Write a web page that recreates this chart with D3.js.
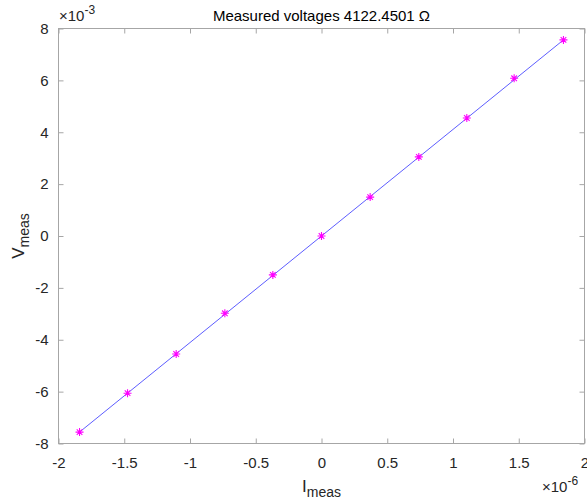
<!DOCTYPE html>
<html>
<head>
<meta charset="utf-8">
<script src="https://cdn.jsdelivr.net/npm/d3@7"></script>
<style>
  body { margin: 0; background: #fff; }
  svg { font-family: "Liberation Sans", Arial, sans-serif; }
</style>
</head>
<body>
<svg id="chart" width="587" height="500"></svg>
<script>
// measured current (x1e-6 A) and voltage (x1e-3 V)
const currents = [-1.84, -1.475, -1.105, -0.735, -0.37, 0, 0.37, 0.74, 1.105, 1.465, 1.84];
const voltages = [-7.56, -6.06, -4.55, -2.98, -1.50, 0, 1.50, 3.05, 4.55, 6.08, 7.56];
const fitLine = [[-1.84, -7.56], [1.84, 7.56]];
const xTicks = [-2, -1.5, -1, -0.5, 0, 0.5, 1, 1.5, 2];
const yTicks = [-8, -6, -4, -2, 0, 2, 4, 6, 8];
const titleText = "Measured voltages 4122.4501 \u03A9";

const buildVis = (svg_name) => {
    let chart = d3.select(svg_name);
    let margin = { left: 58.5, right: 2.5, top: 28.5, bottom: 56.5 };
    let w = +chart.attr("width"), h = +chart.attr("height");

    let x = d3.scaleLinear().domain([-2, 2]).range([margin.left, w - margin.right]);
    let y = d3.scaleLinear().domain([-8, 8]).range([h - margin.bottom, margin.top]);

    let axisColor = "#a6a6a6";
    let textColor = "#262626";

    // box
    chart.append("rect")
        .attr("x", margin.left).attr("y", margin.top)
        .attr("width", w - margin.right - margin.left)
        .attr("height", h - margin.bottom - margin.top)
        .attr("fill", "none").attr("stroke", axisColor).attr("stroke-width", 1);

    const styleAxis = (g) => {
        g.select(".domain").remove();
        g.selectAll(".tick line").attr("stroke", axisColor);
        g.selectAll(".tick text").attr("fill", textColor)
            .style("font-size", "15px");
    };
    const fmt = (d) => String(d);

    chart.append("g")
        .attr("transform", "translate(0," + (h - margin.bottom) + ")")
        .call(d3.axisBottom(x).tickValues(xTicks).tickSizeInner(-5).tickPadding(14).tickFormat(fmt))
        .call(styleAxis);
    chart.append("g")
        .attr("transform", "translate(0," + margin.top + ")")
        .call(d3.axisTop(x).tickValues(xTicks).tickSizeInner(-5).tickFormat(""))
        .call(styleAxis);
    chart.append("g")
        .attr("transform", "translate(" + margin.left + ",0)")
        .call(d3.axisLeft(y).tickValues(yTicks).tickSizeInner(-5).tickPadding(10).tickFormat(fmt))
        .call(styleAxis);
    chart.append("g")
        .attr("transform", "translate(" + (w - margin.right) + ",0)")
        .call(d3.axisRight(y).tickValues(yTicks).tickSizeInner(-5).tickFormat(""))
        .call(styleAxis);

    chart.selectAll(".tick text").attr("font-family", "Liberation Sans, Arial, sans-serif");

    // fit line
    chart.append("path")
        .datum(fitLine)
        .attr("d", d3.line().x(d => x(d[0])).y(d => y(d[1])))
        .attr("fill", "none")
        .attr("stroke", "#3333ff")
        .attr("stroke-width", 0.8);

    // asterisk markers
    let pts = currents.map((c, i) => ({ i: c, v: voltages[i] }));
    let r = 4;
    let star = "M" + (-r) + ",0L" + r + ",0M0," + (-r) + "L0," + r +
        "M" + (-r * 0.7) + "," + (-r * 0.7) + "L" + (r * 0.7) + "," + (r * 0.7) +
        "M" + (-r * 0.7) + "," + (r * 0.7) + "L" + (r * 0.7) + "," + (-r * 0.7);
    chart.selectAll("path.mark")
        .data(pts)
        .enter().append("path")
        .attr("class", "mark")
        .attr("transform", d => "translate(" + x(d.i) + "," + y(d.v) + ")")
        .attr("d", star)
        .attr("stroke", "#ff00ff")
        .attr("stroke-width", 1.1)
        .attr("fill", "none");

    // title
    chart.append("text")
        .attr("x", (margin.left + w - margin.right) / 2)
        .attr("y", 21)
        .attr("text-anchor", "middle")
        .attr("fill", "#000")
        .style("font-size", "15px")
        .text(titleText);

    // x label
    let xl = chart.append("text")
        .attr("x", (margin.left + w - margin.right) / 2)
        .attr("y", 492)
        .attr("text-anchor", "middle")
        .attr("fill", textColor)
        .style("font-size", "17px");
    xl.append("tspan").text("I");
    xl.append("tspan").attr("dy", 5).style("font-size", "14px").text("meas");

    // y label
    let yl = chart.append("text")
        .attr("transform", "translate(24," + (margin.top + (h - margin.bottom - margin.top) / 2) + ") rotate(-90)")
        .attr("text-anchor", "middle")
        .attr("fill", textColor)
        .style("font-size", "17px");
    yl.append("tspan").text("V");
    yl.append("tspan").attr("dy", 5).style("font-size", "14px").text("meas");

    // exponent labels
    let ey = chart.append("text")
        .attr("x", 59).attr("y", 21)
        .attr("fill", textColor)
        .style("font-size", "15px");
    ey.append("tspan").text("\u00D710");
    ey.append("tspan").attr("dy", -7).style("font-size", "12px").text("-3");

    let ex = chart.append("text")
        .attr("x", 542).attr("y", 492)
        .attr("fill", textColor)
        .style("font-size", "15px");
    ex.append("tspan").text("\u00D710");
    ex.append("tspan").attr("dy", -7).style("font-size", "12px").text("-6");
}

buildVis("#chart");
</script>
</body>
</html>
